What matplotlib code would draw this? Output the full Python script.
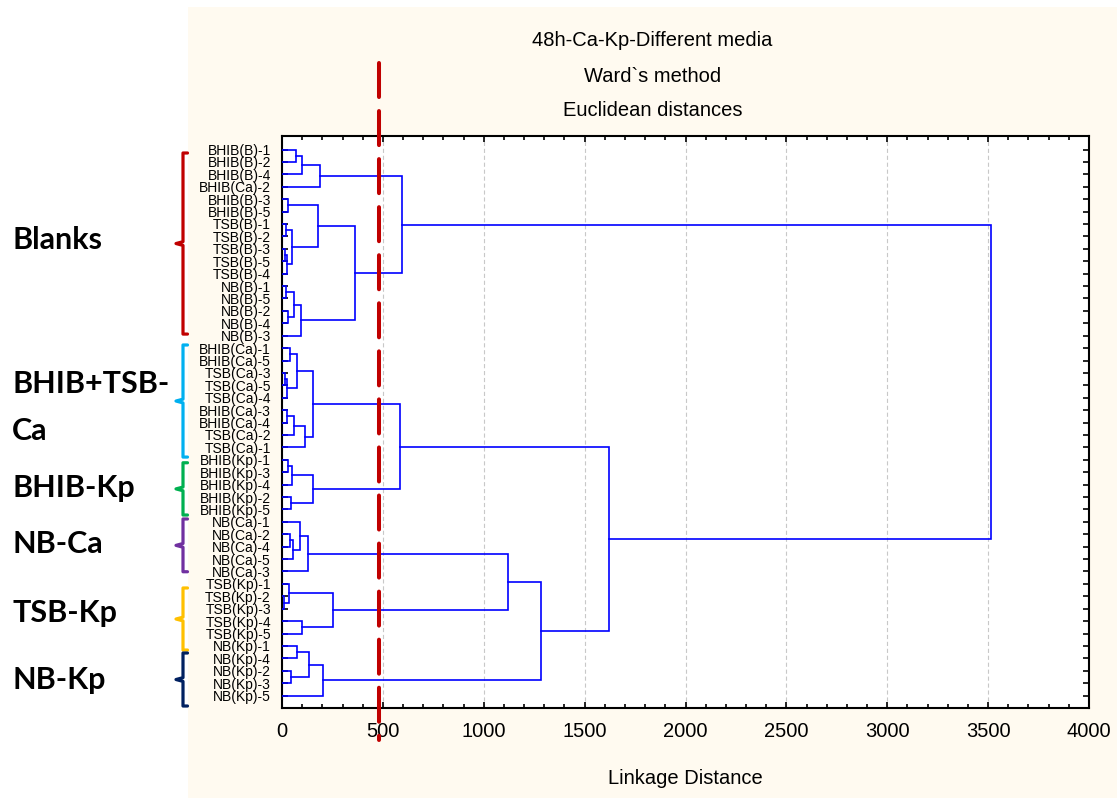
import matplotlib
matplotlib.use('Agg')
import matplotlib.pyplot as plt
import matplotlib.transforms as mtransforms
from matplotlib.patches import Rectangle
from matplotlib.ticker import MultipleLocator

plt.rcParams['lines.scale_dashes'] = False
plt.rcParams['font.family'] = ['Liberation Sans', 'DejaVu Sans']

# leaves, top to bottom
leaf_labels = [
    'BHIB(B)-1', 'BHIB(B)-2', 'BHIB(B)-4', 'BHIB(Ca)-2', 'BHIB(B)-3', 'BHIB(B)-5',
    'TSB(B)-1', 'TSB(B)-2', 'TSB(B)-3', 'TSB(B)-5', 'TSB(B)-4',
    'NB(B)-1', 'NB(B)-5', 'NB(B)-2', 'NB(B)-4', 'NB(B)-3',
    'BHIB(Ca)-1', 'BHIB(Ca)-5', 'TSB(Ca)-3', 'TSB(Ca)-5', 'TSB(Ca)-4',
    'BHIB(Ca)-3', 'BHIB(Ca)-4', 'TSB(Ca)-2', 'TSB(Ca)-1',
    'BHIB(Kp)-1', 'BHIB(Kp)-3', 'BHIB(Kp)-4', 'BHIB(Kp)-2', 'BHIB(Kp)-5',
    'NB(Ca)-1', 'NB(Ca)-2', 'NB(Ca)-4', 'NB(Ca)-5', 'NB(Ca)-3',
    'TSB(Kp)-1', 'TSB(Kp)-2', 'TSB(Kp)-3', 'TSB(Kp)-4', 'TSB(Kp)-5',
    'NB(Kp)-1', 'NB(Kp)-4', 'NB(Kp)-2', 'NB(Kp)-3', 'NB(Kp)-5',
]

# Ward linkage: node ids 0-44 are leaves, each merge creates node 45, 46, ...
merge_a = [0, 45, 46, 4, 6, 8, 50, 49, 48, 11, 13, 54, 56, 53, 47,
           16, 18, 61, 60, 21, 64, 65, 63, 25, 68, 28, 69, 67,
           31, 73, 30, 75, 36, 35, 38, 78, 40, 42, 81, 83, 76, 85, 72, 59]
merge_b = [1, 2, 3, 5, 7, 9, 10, 51, 52, 12, 14, 55, 15, 57, 58,
           17, 19, 20, 62, 22, 23, 24, 66, 26, 27, 29, 70, 71,
           32, 33, 74, 34, 37, 77, 39, 79, 41, 43, 82, 44, 80, 84, 86, 87]
merge_dist = [68, 101, 187, 30, 19, 14, 27, 52, 179, 22, 30, 60, 92, 361, 595,
              42, 14, 25, 75, 24, 58, 113, 154, 29, 50, 47, 154, 584,
              42, 55, 88, 130, 8, 35, 101, 254, 72, 44, 133, 204, 1120, 1284, 1620, 3515]

cut_distance = 480

group_names = ['Blanks', 'BHIB+TSB-\nCa', 'BHIB-Kp', 'NB-Ca', 'TSB-Kp', 'NB-Kp']
group_colors = ['#C00000', '#00B0F0', '#00B050', '#7030A0', '#FFC000', '#002060']
# brace extent and label baseline, in leaf units
brace_top = [0.28, 15.75, 25.24, 29.77, 35.33, 40.57]
brace_bottom = [14.87, 24.78, 29.45, 34.02, 40.33, 44.84]
label_baseline = [8.04, 19.62, 28.03, 32.54, 38.05, 43.5]

W, H = 1117, 798
fig = plt.figure(figsize=(W / 100, H / 100), dpi=100, facecolor='white')
fig.patches.append(Rectangle((188 / W, 0), 1 - 188 / W, 1 - 7 / H, transform=fig.transFigure,
                             facecolor='#FFFAF0', edgecolor='none', zorder=-1))

ax = fig.add_axes([282 / W, 1 - 708 / H, (1089 - 282) / W, (708 - 136) / H])
ax.set_facecolor('white')

# dendrogram
n = len(leaf_labels)
pos = list(range(n))
height = [0.0] * n
for a, b, d in zip(merge_a, merge_b, merge_dist):
    ax.plot([height[a], d, d, height[b]], [pos[a], pos[a], pos[b], pos[b]],
            color='#0000FF', lw=1.2, solid_joinstyle='miter', zorder=3)
    pos.append((pos[a] + pos[b]) / 2)
    height.append(d)

# cut line
ax.plot([cut_distance, cut_distance], [-6.97, 47.58], color='#C00000', lw=2.9,
        linestyle=(0, (24.5, 10.1)), dash_capstyle='round', clip_on=False, zorder=10)

ax.set_xlim(0, 4000)
ax.set_ylim(45.0, -1.09)
ax.xaxis.set_major_locator(MultipleLocator(500))
ax.xaxis.set_minor_locator(MultipleLocator(100))
ax.set_yticks(range(n))
ax.set_yticklabels(leaf_labels, fontsize=10)
ax.grid(axis='x', which='major', color='#c8c8c8', linestyle=(0, (3, 2)), linewidth=0.8, zorder=1)
ax.set_axisbelow(True)

ax.tick_params(axis='both', which='both', direction='in', top=True, right=True,
               width=1.2, color='black')
ax.tick_params(axis='x', which='major', length=4, labelsize=14.5, pad=10)
ax.tick_params(axis='x', which='minor', length=3)
ax.tick_params(axis='y', which='major', length=4, pad=8)
for s in ax.spines.values():
    s.set_linewidth(1.5)

fig.text(652.5 / W, 1 - 40 / H, '48h-Ca-Kp-Different media', ha='center', va='center', fontsize=14.5)
fig.text(652.5 / W, 1 - 76 / H, 'Ward`s method', ha='center', va='center', fontsize=14.5)
fig.text(652.5 / W, 1 - 111 / H, 'Euclidean distances', ha='center', va='center', fontsize=14.5)
fig.text(685.5 / W, 1 - 778 / H, 'Linkage Distance', ha='center', va='center', fontsize=14.5)

# group braces and labels
tr = mtransforms.blended_transform_factory(fig.transFigure, ax.transData)
xv, xh, xn = 183 / W, 187.5 / W, 176 / W
line_step = 3.79
for name, c, t, b, yb in zip(group_names, group_colors, brace_top, brace_bottom, label_baseline):
    m = (t + b) / 2
    ax.plot([xh, xv, xv, xn, xv, xv, xh], [t, t, m - 0.15, m, m + 0.15, b, b],
            color=c, lw=2.3, transform=tr, clip_on=False,
            solid_joinstyle='round', solid_capstyle='round')
    for k, line in enumerate(name.split('\n')):
        ax.text(12 / W, yb + k * line_step, line, transform=tr, ha='left', va='baseline',
                fontsize=22, fontweight='bold', family=['Lato', 'DejaVu Sans'], clip_on=False)

fig.savefig('out.png', dpi=100, facecolor=fig.get_facecolor())
